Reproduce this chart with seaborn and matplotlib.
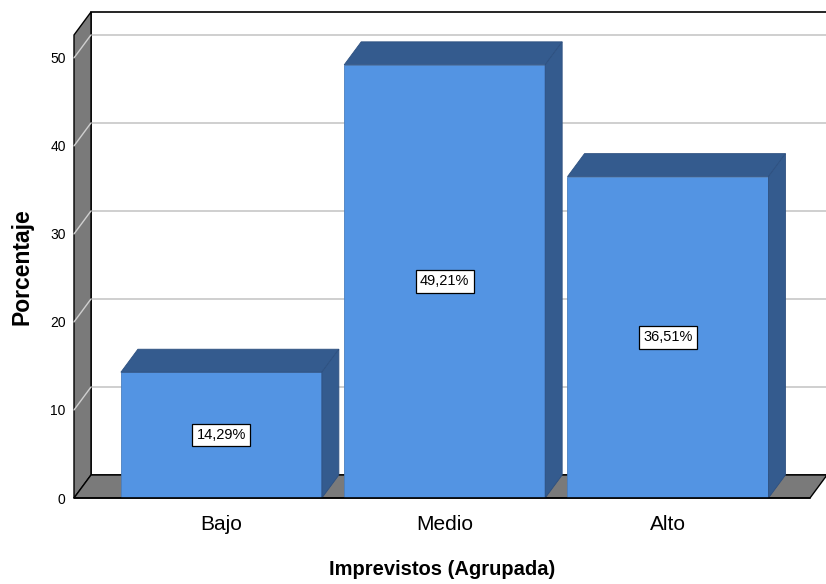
import matplotlib
matplotlib.use("Agg")
import matplotlib.pyplot as plt
import seaborn as sns
import pandas as pd
from matplotlib.patches import Polygon

# Data
categories = ["Bajo", "Medio", "Alto"]
percentages = [14.29, 49.21, 36.51]
value_labels = ["14,29%", "49,21%", "36,51%"]

FRONT = "#5394E3"
SIDE = "#345B8E"
WALL = "#7a7a7a"

sns.set_style("white")
plt.rcParams["font.family"] = ["Liberation Sans", "DejaVu Sans"]
plt.rcParams["text.color"] = "black"
plt.rcParams["axes.labelcolor"] = "black"
plt.rcParams["xtick.color"] = "black"
plt.rcParams["ytick.color"] = "black"

df = pd.DataFrame({"cat": categories, "pct": percentages})

fig = plt.figure(figsize=(8.26, 5.84), dpi=100)
W, H = 826, 584
# axes = front plane of the pseudo-3D box
left_px, right_px, top_px, bottom_px = 74, 810, 35, 498
ax = fig.add_axes([left_px / W, 1 - bottom_px / H,
                   (right_px - left_px) / W, (bottom_px - top_px) / H])

x0, x1 = -0.66, 2.636
y0, y1 = 0, 52.6
ax.set_xlim(x0, x1)
ax.set_ylim(y0, y1)

# depth offset in data units (17 px right, 23 px up)
dx = 17 * (x1 - x0) / (right_px - left_px)
dy = 23 * (y1 - y0) / (bottom_px - top_px)

# back wall
back = Polygon([(x0 + dx, dy), (x1 + dx, dy), (x1 + dx, y1 + dy), (x0 + dx, y1 + dy)],
               closed=True, facecolor="white", edgecolor="black", lw=1.2,
               clip_on=False, zorder=0)
ax.add_patch(back)
for t in [10, 20, 30, 40, 50]:
    ax.plot([x0 + dx, x1 + dx], [t + dy, t + dy], color="#cfcfcf", lw=1.4,
            clip_on=False, zorder=0.5)

# left wall
lwall = Polygon([(x0, 0), (x0, y1), (x0 + dx, y1 + dy), (x0 + dx, dy)],
                closed=True, facecolor=WALL, edgecolor="black", lw=1.0,
                clip_on=False, zorder=1)
ax.add_patch(lwall)
for t in [10, 20, 30, 40, 50]:
    ax.plot([x0, x0 + dx], [t, t + dy], color="#d0d0d0", lw=1.0,
            clip_on=False, zorder=1.2)

# floor
floor = Polygon([(x0, 0), (x1, 0), (x1 + dx, dy), (x0 + dx, dy)],
                closed=True, facecolor=WALL, edgecolor="black", lw=1.0,
                clip_on=False, zorder=1)
ax.add_patch(floor)

# front faces of bars
sns.barplot(data=df, x="cat", y="pct", color=FRONT, width=0.9,
            edgecolor="#4a7fc0", linewidth=0.6, saturation=1, ax=ax, zorder=3)
ax.set_xlim(x0, x1)
ax.set_ylim(y0, y1)

# top and side faces
for bar in list(ax.patches):
    if bar.get_zorder() != 3 or isinstance(bar, Polygon):
        continue
    bx, bw, bh = bar.get_x(), bar.get_width(), bar.get_height()
    top = Polygon([(bx, bh), (bx + bw, bh), (bx + bw + dx, bh + dy), (bx + dx, bh + dy)],
                  closed=True, facecolor=SIDE, edgecolor="#2d5080", lw=0.6,
                  clip_on=False, zorder=3)
    side = Polygon([(bx + bw, 0), (bx + bw, bh), (bx + bw + dx, bh + dy), (bx + bw + dx, dy)],
                   closed=True, facecolor=SIDE, edgecolor="#2d5080", lw=0.6,
                   clip_on=False, zorder=3)
    ax.add_patch(top)
    ax.add_patch(side)

# value labels
for i, (v, lab) in enumerate(zip(percentages, value_labels)):
    ax.text(i, v / 2, lab, ha="center", va="center", fontsize=10.5, zorder=5,
            bbox=dict(boxstyle="square,pad=0.3", facecolor="white",
                      edgecolor="black", lw=0.9))

# front baseline
ax.plot([x0, x1], [0, 0], color="black", lw=1.2, clip_on=False, zorder=4)

for s in ax.spines.values():
    s.set_visible(False)
ax.patch.set_visible(False)
ax.set_yticks([0, 10, 20, 30, 40, 50])
ax.tick_params(axis="y", length=0, pad=6, labelsize=10)
ax.tick_params(axis="x", length=0, pad=12, labelsize=15)
ax.set_xlabel("Imprevistos (Agrupada)", fontsize=14.5, fontweight="bold", labelpad=19)
ax.set_ylabel("Porcentaje", fontsize=16.5, fontweight="bold", labelpad=12)

fig.savefig("out.png", dpi=100)
